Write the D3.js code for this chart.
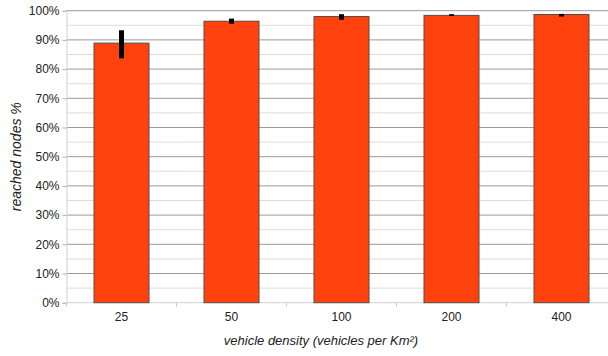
<!DOCTYPE html>
<html>
<head>
<meta charset="utf-8">
<script src="https://cdn.jsdelivr.net/npm/d3@7/dist/d3.min.js"></script>
<style>
  html, body { margin: 0; padding: 0; background: #fff; }
  svg { display: block; font-family: "Liberation Sans", Arial, sans-serif; }
</style>
</head>
<body>
<svg id="chart" width="608" height="356"></svg>
<script>
// vehicle density categories and reached-node percentages
const densities = ["25", "50", "100", "200", "400"];
const reached = [88.9, 96.4, 98.0, 98.4, 98.7];
const errLow = [83.7, 95.5, 96.9, 98.2, 98.0];
const errHigh = [93.3, 97.3, 98.8, 98.8, 98.9];
const yTicks = [0, 10, 20, 30, 40, 50, 60, 70, 80, 90, 100];
const yMinor = [5, 15, 25, 35, 45, 55, 65, 75, 85, 95];

const svg = d3.select("#chart");
const plotLeft = 66.5, plotTop = 10.7, plotBottom = 302.7, plotRight = 616.5;

const x = d3.scaleBand().domain(densities).range([plotLeft, plotRight]).paddingInner(0.5).paddingOuter(0.25);
const y = d3.scaleLinear().domain([0, 100]).range([plotBottom, plotTop]);

// minor gridlines
svg.append("g").selectAll("line").data(yMinor).join("line")
  .attr("x1", plotLeft).attr("x2", plotRight)
  .attr("y1", d => y(d)).attr("y2", d => y(d))
  .attr("stroke", "#dcdcdc").attr("stroke-width", 1);

// major gridlines
svg.append("g").selectAll("line").data(yTicks.filter(d => d > 0)).join("line")
  .attr("x1", plotLeft).attr("x2", plotRight)
  .attr("y1", d => y(d)).attr("y2", d => y(d))
  .attr("stroke", "#9a9a9a").attr("stroke-width", 1);

// y axis
const yAxis = d3.axisLeft(y).tickValues(yTicks).tickFormat(d => d + "%").tickSize(4).tickPadding(3);
const gy = svg.append("g").attr("transform", `translate(${plotLeft},0)`).call(yAxis);
gy.select(".domain").attr("stroke", "#d0d0d0");
gy.selectAll(".tick line").attr("stroke", "#b0b0b0");
gy.selectAll(".tick text").attr("font-size", 12).attr("fill", "#222")
  .attr("font-family", "'Liberation Sans', Arial, sans-serif");

// x axis baseline and between-category ticks
svg.append("line").attr("x1", plotLeft).attr("x2", plotRight)
  .attr("y1", plotBottom).attr("y2", plotBottom).attr("stroke", "#d0d0d0");
const step = x.step();
const sepX = d3.range(densities.length + 1).map(i => plotLeft + i * step);
svg.append("g").selectAll("line").data(sepX).join("line")
  .attr("x1", d => d).attr("x2", d => d)
  .attr("y1", plotBottom).attr("y2", plotBottom + 4)
  .attr("stroke", "#c8c8c8");

// x labels
svg.append("g").selectAll("text").data(densities).join("text")
  .attr("x", d => x(d) + x.bandwidth() / 2)
  .attr("y", plotBottom + 18)
  .attr("text-anchor", "middle")
  .attr("font-size", 12).attr("fill", "#222")
  .text(d => d);

// bars
svg.append("g").selectAll("rect").data(densities).join("rect")
  .attr("x", d => x(d))
  .attr("y", (d, i) => y(reached[i]))
  .attr("width", x.bandwidth())
  .attr("height", (d, i) => y(0) - y(reached[i]))
  .attr("fill", "#ff420e")
  .attr("stroke", "#5a4a44").attr("stroke-width", 1);

// error bars
svg.append("g").selectAll("rect").data(densities).join("rect")
  .attr("x", d => x(d) + x.bandwidth() / 2 - 2.5)
  .attr("y", (d, i) => y(errHigh[i]))
  .attr("width", 5)
  .attr("height", (d, i) => y(errLow[i]) - y(errHigh[i]))
  .attr("fill", "#000");

// axis titles
svg.append("text")
  .attr("x", 321).attr("y", 345)
  .attr("text-anchor", "middle")
  .attr("font-size", 13).attr("font-style", "italic").attr("fill", "#222")
  .text("vehicle density (vehicles per Km²)");

svg.append("text")
  .attr("transform", `translate(21,${(plotTop + plotBottom) / 2}) rotate(-90)`)
  .attr("text-anchor", "middle")
  .attr("font-size", 14).attr("font-style", "italic").attr("fill", "#222")
  .text("reached nodes %");
</script>
</body>
</html>
